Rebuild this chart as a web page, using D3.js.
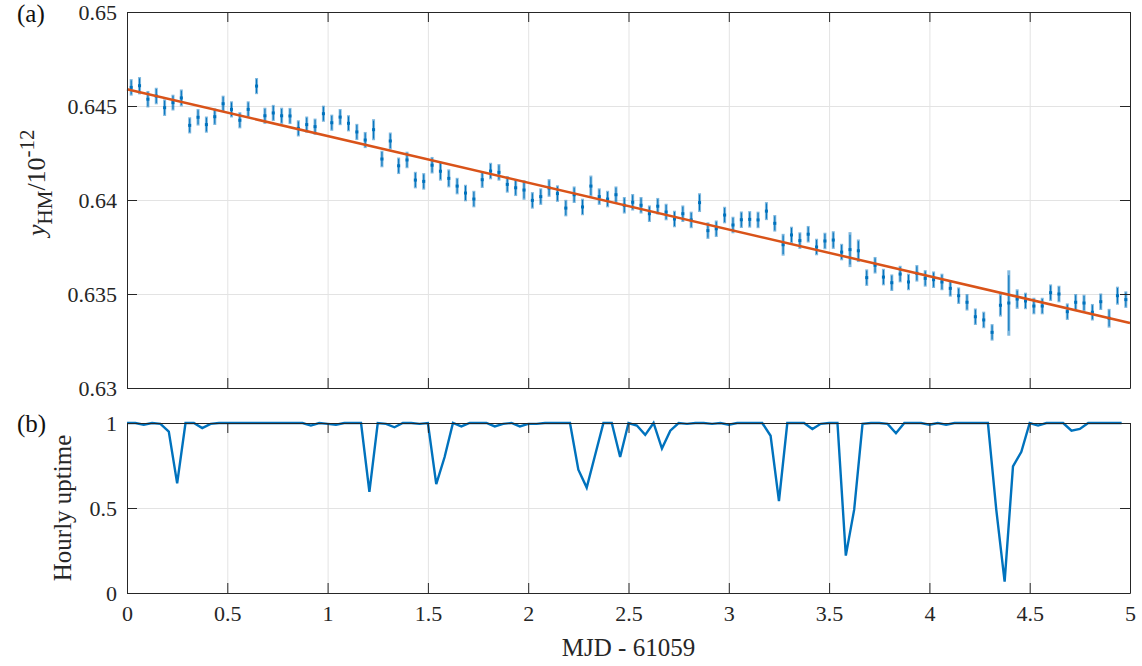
<!DOCTYPE html>
<html>
<head>
<meta charset="utf-8">
<script src="https://cdn.jsdelivr.net/npm/d3@7"></script>
<style>
  body { margin: 0; background: #fff; }
  svg { font-family: "Liberation Serif", "Times New Roman", serif; }
  .grid line { stroke: #e3e3e3; stroke-width: 1; }
  .grid path { display: none; }
  .ax path, .ax line { stroke: #262626; stroke-width: 1; }
  .ax text { fill: #262626; font-size: 22px; font-family: "Liberation Serif", serif; }
</style>
</head>
<body>
<svg id="chart"></svg>
<script>
// hourly bins, MJD - 61059 (0..5 days)
const xTicks = [0, 0.5, 1, 1.5, 2, 2.5, 3, 3.5, 4, 4.5, 5];
const yTopTicks = [0.63, 0.635, 0.64, 0.645, 0.65];
const yBotTicks = [0, 0.5, 1];

// y_HM / 1e-12, one value per hour
const yhm = [
  0.64599, 0.64608, 0.64536, 0.64553, 0.64491, 0.64518, 0.64543, 0.64397, 0.64440, 0.64401,
  0.64443, 0.64512, 0.64482, 0.64424, 0.64482, 0.64606, 0.64448, 0.64463, 0.64448, 0.64447,
  0.64381, 0.64401, 0.64390, 0.64459, 0.64411, 0.64441, 0.64408, 0.64362, 0.64319, 0.64374,
  0.64218, 0.64314, 0.64182, 0.64213, 0.64106, 0.64099, 0.64185, 0.64153, 0.64115, 0.64074,
  0.64037, 0.64005, 0.64108, 0.64154, 0.64147, 0.64083, 0.64065, 0.64053, 0.63998, 0.64018,
  0.64064, 0.64034, 0.63957, 0.64028, 0.63963, 0.64074, 0.64018, 0.64005, 0.64028, 0.63972,
  0.63988, 0.63972, 0.63927, 0.63967, 0.63936, 0.63899, 0.63927, 0.63894, 0.63986, 0.63837,
  0.63847, 0.63920, 0.63867, 0.63895, 0.63897, 0.63894, 0.63941, 0.63876, 0.63762, 0.63814,
  0.63784, 0.63818, 0.63750, 0.63782, 0.63787, 0.63723, 0.63736, 0.63730, 0.63587, 0.63653,
  0.63590, 0.63560, 0.63606, 0.63564, 0.63610, 0.63583, 0.63576, 0.63564, 0.63530, 0.63491,
  0.63456, 0.63379, 0.63362, 0.63296, 0.63440, 0.63452, 0.63473, 0.63463, 0.63436, 0.63436,
  0.63507, 0.63500, 0.63406, 0.63456, 0.63452, 0.63403, 0.63459, 0.63371, 0.63491, 0.63470
];

const yhmErr = [
  0.00044, 0.00046, 0.00044, 0.00044, 0.00044, 0.00042, 0.00045, 0.00043, 0.00044, 0.00043,
  0.00044, 0.00043, 0.00043, 0.00043, 0.00043, 0.00043, 0.00043, 0.00043, 0.00043, 0.00043,
  0.00043, 0.00043, 0.00043, 0.00043, 0.00043, 0.00043, 0.00043, 0.00043, 0.00043, 0.00056,
  0.00044, 0.00045, 0.00044, 0.00044, 0.00044, 0.00044, 0.00044, 0.00050, 0.00048, 0.00044,
  0.00044, 0.00044, 0.00044, 0.00044, 0.00044, 0.00044, 0.00044, 0.00052, 0.00044, 0.00044,
  0.00047, 0.00044, 0.00044, 0.00044, 0.00044, 0.00056, 0.00044, 0.00044, 0.00044, 0.00044,
  0.00044, 0.00044, 0.00044, 0.00044, 0.00044, 0.00044, 0.00044, 0.00044, 0.00050, 0.00044,
  0.00044, 0.00044, 0.00044, 0.00044, 0.00044, 0.00044, 0.00048, 0.00044, 0.00058, 0.00044,
  0.00044, 0.00044, 0.00044, 0.00044, 0.00047, 0.00044, 0.00093, 0.00060, 0.00044, 0.00044,
  0.00044, 0.00044, 0.00044, 0.00044, 0.00044, 0.00044, 0.00044, 0.00044, 0.00044, 0.00044,
  0.00044, 0.00044, 0.00044, 0.00044, 0.00060, 0.00174, 0.00052, 0.00044, 0.00044, 0.00044,
  0.00044, 0.00044, 0.00044, 0.00044, 0.00044, 0.00044, 0.00044, 0.00050, 0.00048, 0.00044
];

// linear fit y = a + b*t
const fitA = 0.64589;
const fitB = -0.002486;

// hourly uptime fraction
const uptime = [
  1.0, 1.0, 0.99, 1.0, 0.995, 0.95, 0.645, 1.0, 1.0, 0.97,
  0.995, 1.0, 1.0, 1.0, 1.0, 1.0, 1.0, 1.0, 1.0, 1.0,
  1.0, 1.0, 0.985, 1.0, 0.995, 0.99, 1.0, 1.0, 1.0, 0.595,
  1.0, 0.995, 0.975, 1.0, 1.0, 0.995, 1.0, 0.64, 0.80, 1.0,
  0.98, 1.0, 1.0, 1.0, 0.98, 0.995, 1.0, 0.98, 0.995, 0.995,
  1.0, 1.0, 1.0, 1.0, 0.725, 0.62, 0.81, 1.0, 1.0, 0.80,
  1.0, 0.985, 0.93, 1.0, 0.85, 0.955, 1.0, 0.995, 1.0, 1.0,
  0.995, 1.0, 0.99, 1.0, 1.0, 1.0, 1.0, 0.925, 0.54, 1.0,
  1.0, 1.0, 0.965, 0.995, 1.0, 1.0, 0.22, 0.49, 0.995, 1.0,
  1.0, 0.995, 0.94, 1.0, 1.0, 1.0, 0.99, 1.0, 0.99, 1.0,
  1.0, 1.0, 1.0, 1.0, 0.49, 0.067, 0.745, 0.83, 1.0, 0.985,
  1.0, 1.0, 1.0, 0.955, 0.965, 1.0, 1.0, 1.0, 1.0, 1.0
];

const blue = "#0072BD";
const orange = "#D95319";
const serif = "'Liberation Serif', 'Times New Roman', serif";

const W = 1142, H = 666;
const left = 127, right = 1130;
const topA = 12, botA = 388;
const topB = 423, botB = 593;

const svg = d3.select("#chart").attr("width", W).attr("height", H);

const x = d3.scaleLinear().domain([0, 5]).range([left, right]);
const yA = d3.scaleLinear().domain([0.63, 0.65]).range([botA, topA]);
const yB = d3.scaleLinear().domain([0, 1]).range([botB, topB]);

function grid(g, y, yt, top, bot) {
  g.append("g").attr("class", "grid")
    .attr("transform", `translate(0,${bot})`)
    .call(d3.axisBottom(x).tickValues(xTicks).tickSize(-(bot - top)).tickFormat(""));
  g.append("g").attr("class", "grid")
    .attr("transform", `translate(${left},0)`)
    .call(d3.axisLeft(y).tickValues(yt).tickSize(-(right - left)).tickFormat(""));
}

function box(g, y, yt, top, bot, xlabels) {
  g.append("g").attr("class", "ax")
    .attr("transform", `translate(0,${bot})`)
    .call(d3.axisBottom(x).tickValues(xTicks).tickSizeInner(-10).tickSizeOuter(0).tickPadding(12)
      .tickFormat(xlabels ? d3.format("") : ""));
  g.append("g").attr("class", "ax")
    .attr("transform", `translate(0,${top})`)
    .call(d3.axisTop(x).tickValues(xTicks).tickSizeInner(-10).tickSizeOuter(0).tickFormat(""));
  g.append("g").attr("class", "ax")
    .attr("transform", `translate(${left},0)`)
    .call(d3.axisLeft(y).tickValues(yt).tickSizeInner(-10).tickSizeOuter(0).tickPadding(10).tickFormat(d3.format("")));
  g.append("g").attr("class", "ax")
    .attr("transform", `translate(${right},0)`)
    .call(d3.axisRight(y).tickValues(yt).tickSizeInner(-10).tickSizeOuter(0).tickFormat(""));
  g.selectAll(".ax").attr("font-family", serif).attr("font-size", 22);
}

// panel (a)
const pa = svg.append("g");
grid(pa, yA, yTopTicks, topA, botA);

const pts = yhm.map((v, i) => ({t: (i + 0.5) / 24, v: v, e: yhmErr[i]}));

pa.selectAll("line.errA").data(pts).enter().append("line")
  .attr("class", "errA")
  .attr("x1", d => x(d.t)).attr("x2", d => x(d.t))
  .attr("y1", d => yA(d.v - d.e)).attr("y2", d => yA(d.v + d.e))
  .attr("stroke", blue).attr("stroke-opacity", 0.5).attr("stroke-width", 3);

pa.selectAll("line.errB").data(pts).enter().append("line")
  .attr("class", "errB")
  .attr("x1", d => x(d.t)).attr("x2", d => x(d.t))
  .attr("y1", d => yA(d.v - d.e * 0.85)).attr("y2", d => yA(d.v + d.e * 0.85))
  .attr("stroke", blue).attr("stroke-width", 1);

pa.selectAll("rect.pt").data(pts).enter().append("rect")
  .attr("class", "pt")
  .attr("x", d => x(d.t) - 1.5).attr("y", d => yA(d.v) - 1.5)
  .attr("width", 3).attr("height", 3)
  .attr("fill", blue);

pa.append("path")
  .datum([0, 5])
  .attr("d", d3.line().x(t => x(t)).y(t => yA(fitA + fitB * t)))
  .attr("stroke", orange).attr("stroke-width", 2.5).attr("fill", "none");

box(pa, yA, yTopTicks, topA, botA, false);

// panel (b)
const pb = svg.append("g");
grid(pb, yB, yBotTicks, topB, botB);

pb.append("path")
  .datum(uptime.map((v, i) => [i / 24, v]))
  .attr("d", d3.line().x(d => x(d[0])).y(d => yB(d[1])))
  .attr("stroke", blue).attr("stroke-width", 2.4).attr("fill", "none");

box(pb, yB, yBotTicks, topB, botB, true);

// labels
svg.append("text").attr("x", 17).attr("y", 22)
  .attr("font-size", 25).attr("fill", "#111").text("(a)");
svg.append("text").attr("x", 17).attr("y", 432)
  .attr("font-size", 25).attr("fill", "#111").text("(b)");

svg.append("text")
  .attr("x", (left + right) / 2).attr("y", 656)
  .attr("text-anchor", "middle").attr("font-size", 25).attr("fill", "#262626")
  .text("MJD - 61059");

svg.append("text")
  .attr("transform", `translate(71,${(topB + botB) / 2}) rotate(-90)`)
  .attr("text-anchor", "middle").attr("font-size", 25).attr("fill", "#262626")
  .text("Hourly uptime");

const yl = svg.append("text")
  .attr("transform", "translate(45,236) rotate(-90)")
  .attr("text-anchor", "start").attr("font-size", 26).attr("fill", "#262626");
yl.append("tspan").attr("font-style", "italic").text("y");
yl.append("tspan").attr("font-size", 21).attr("dy", 7).text("HM");
yl.append("tspan").attr("dy", -7).text("/10");
yl.append("tspan").attr("font-size", 21).attr("dy", -11).text("-12");
</script>
</body>
</html>
